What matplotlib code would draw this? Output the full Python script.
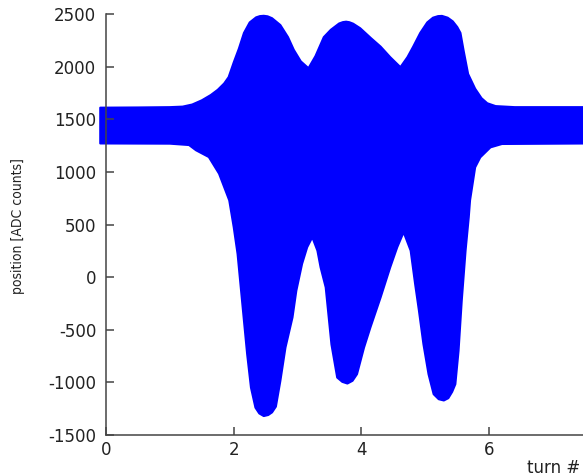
import matplotlib
matplotlib.use("Agg")
import matplotlib.pyplot as plt
from matplotlib import font_manager

plt.rcParams["axes.unicode_minus"] = False

# envelope of the turn-by-turn position signal
X_UPPER = [-0.09, 0.5, 1.0, 1.2, 1.35, 1.5, 1.64, 1.75, 1.85, 1.92, 2.0, 2.08,
           2.16, 2.25, 2.35, 2.41, 2.47, 2.53, 2.6, 2.73, 2.85, 2.94, 3.05, 3.17,
           3.28, 3.41, 3.52, 3.65, 3.71, 3.76, 3.81, 3.87, 3.98, 4.15, 4.30, 4.45,
           4.61, 4.72, 4.81, 4.92, 5.03, 5.12, 5.20, 5.26, 5.35, 5.43, 5.50, 5.55,
           5.60, 5.67, 5.78, 5.88, 5.97, 6.1, 6.4, 7.6]
Y_UPPER = [1610, 1612, 1615, 1620, 1640, 1680, 1730, 1780, 1840, 1900, 2040, 2170,
           2320, 2420, 2468, 2480, 2483, 2478, 2460, 2395, 2280, 2160, 2050, 1985,
           2100, 2280, 2350, 2410, 2423, 2427, 2422, 2408, 2365, 2270, 2190, 2090,
           1995, 2090, 2190, 2320, 2420, 2465, 2480, 2482, 2465, 2430, 2376, 2320,
           2150, 1930, 1790, 1700, 1652, 1625, 1615, 1615]

X_LOWER = [-0.09, 1.0, 1.3, 1.41, 1.61, 1.77, 1.93, 2.0, 2.06, 2.11, 2.16, 2.21,
           2.27, 2.34, 2.40, 2.47, 2.54, 2.60, 2.66, 2.73, 2.81, 2.92, 2.98, 3.07,
           3.15, 3.23, 3.31, 3.36, 3.44, 3.53, 3.62, 3.70, 3.78, 3.86, 3.93, 4.04,
           4.14, 4.30, 4.45, 4.56, 4.66, 4.77, 4.84, 4.90, 4.97, 5.05, 5.13, 5.21,
           5.29, 5.36, 5.42, 5.47, 5.52, 5.57, 5.63, 5.68, 5.70, 5.78, 5.86, 6.02,
           6.2, 7.6]
Y_LOWER = [1270, 1268, 1255, 1205, 1141, 983, 729, 474, 221, -97, -414, -731,
           -1050, -1240, -1295, -1320, -1310, -1285, -1230, -986, -669, -383, -129, 126,
           284, 379, 252, 93, -97, -640, -954, -995, -1011, -985, -922, -669,
           -478, -192, 93, 284, 427, 252, -65, -319, -636, -922, -1112, -1160,
           -1172, -1150, -1090, -1017, -700, -224, 252, 570, 729, 1043, 1138, 1233,
           1265, 1270]

X_TICKS = [0, 2, 4, 6]
Y_TICKS = [-1500, -1000, -500, 0, 500, 1000, 1500, 2000, 2500]

names = {f.name for f in font_manager.fontManager.ttflist}
narrow = "Liberation Sans Narrow" if "Liberation Sans Narrow" in names else "DejaVu Sans"

fig = plt.figure(figsize=(5.83, 4.76), dpi=100)
ax = fig.add_axes([106 / 583, 1 - 435 / 476, (585 - 106) / 583, 421 / 476])

# closed outline: upper edge left->right, lower edge right->left
px = list(X_UPPER) + list(reversed(X_LOWER))
py = list(Y_UPPER) + list(reversed(Y_LOWER))
ax.fill(px, py, facecolor="#0000ff", edgecolor="#0000ff", lw=1.5,
        joinstyle="round", clip_on=False)

ax.set_xlim(0, 7.5)
ax.set_ylim(-1500, 2500)
ax.set_xticks(X_TICKS)
ax.set_yticks(Y_TICKS)
ax.tick_params(direction="in", length=6, width=1.1, color="#444444",
               labelsize=12, labelcolor="#222222")
ax.tick_params(axis="x", pad=4.5)
ax.tick_params(axis="y", pad=7)
for s in ("top", "right"):
    ax.spines[s].set_visible(False)
for s in ("left", "bottom"):
    ax.spines[s].set_color("#444444")
    ax.spines[s].set_linewidth(1.1)

fig.text(580 / 583, 1 - 468 / 476, "turn #", ha="right", va="center",
         fontsize=12, color="#222222")
fig.text(18 / 583, 1 - 226 / 476, "position [ADC counts]", rotation=90,
         ha="center", va="center", fontsize=10, family=narrow,
         fontstretch="condensed", color="#222222")

fig.savefig("out.png", dpi=100)
